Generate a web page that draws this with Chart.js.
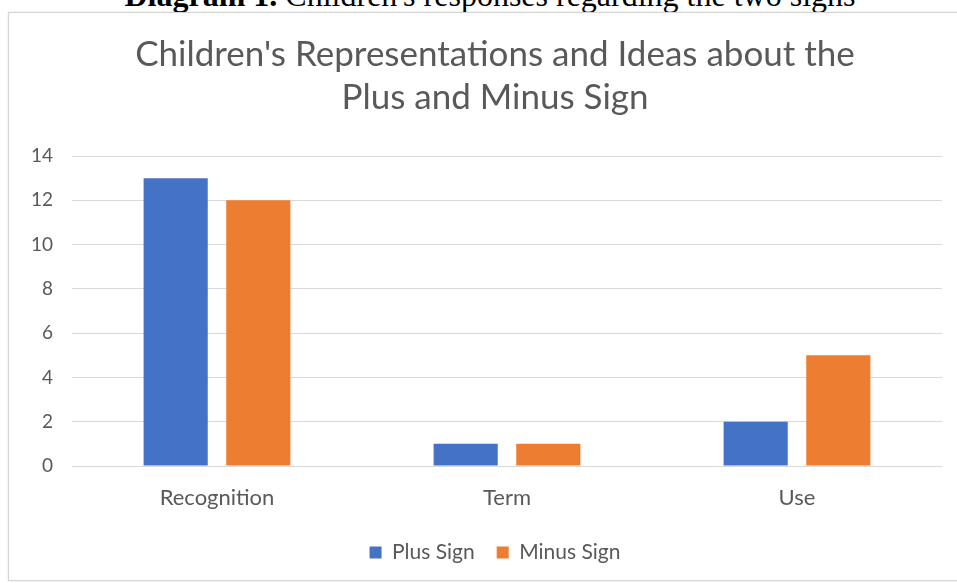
<!DOCTYPE html>
<html>
<head>
<meta charset="utf-8">
<script src="https://cdn.jsdelivr.net/npm/chart.js@4"></script>
<style>
  html, body { margin: 0; padding: 0; background: #fff; overflow: hidden; }
  body { width: 957px; height: 583px; position: relative; overflow: hidden; }
  .caption {
    position: absolute; left: 0; top: -21px; width: 980px; text-align: center;
    font-family: "Liberation Serif", serif; font-size: 32px; line-height: 32px; color: #000;
  }
  .frame {
    position: absolute; left: 8px; top: 12px; width: 970px; height: 567px;
    border: 1px solid #d4d4d4; box-shadow: 0 0 2px rgba(0,0,0,0.12);
  }
  /* canvas runs a bit past the right edge so title and legend centre at x~495 */
  .chartBox { position: absolute; left: 0; top: 0; width: 982px; height: 583px; }
</style>
</head>
<body>
<div class="caption"><b>Diagram 1.</b> Children's responses regarding the two signs</div>
<div class="frame"></div>
<div class="chartBox"><canvas id="chart"></canvas></div>
<script>
const categories = ["Recognition", "Term", "Use"];
const plusSign = [13, 1, 2];
const minusSign = [12, 1, 5];
const seriesNames = ["Plus Sign", "Minus Sign"];
const titleLines = ["Children's Representations and Ideas about the", "Plus and Minus Sign"];

const textGray = "#595959";
const fontFamily = "Lato, 'Noto Sans', sans-serif";

const chartConfig = {
  type: "bar",
  data: {
    labels: categories,
    datasets: [
      {
        label: seriesNames[0],
        data: plusSign,
        backgroundColor: "#4472C4",
        categoryPercentage: 0.57,
        barPercentage: 0.776,
      },
      {
        label: seriesNames[1],
        data: minusSign,
        backgroundColor: "#ED7D31",
        categoryPercentage: 0.57,
        barPercentage: 0.776,
      },
    ],
  },
  options: {
    responsive: true,
    maintainAspectRatio: false,
    animation: false,
    layout: { padding: { left: 8, right: 0, top: 12, bottom: 10 } },
    scales: {
      x: {
        grid: { display: false, drawTicks: false },
        border: { display: false },
        ticks: {
          color: textGray,
          padding: 19,
          font: { family: fontFamily, size: 22 },
        },
        afterFit: (scale) => {
          scale.height = 54;
        },
      },
      y: {
        min: 0,
        max: 14,
        ticks: {
          stepSize: 2,
          color: textGray,
          padding: 19,
          font: { family: fontFamily, size: 19 },
        },
        grid: { color: "#d9d9d9", lineWidth: 1, drawTicks: false },
        border: { display: false },
        afterFit: (scale) => {
          scale.width = 64;
        },
      },
      // empty spacer on the right, keeps the plot ending at x=942
      spacer: {
        position: "right",
        grid: { display: false, drawTicks: false },
        border: { display: false },
        ticks: { display: false },
        afterFit: (scale) => {
          scale.width = 40;
        },
      },
    },
    plugins: {
      title: {
        display: true,
        text: titleLines,
        color: textGray,
        font: { family: fontFamily, size: 35, weight: "normal", lineHeight: 1.23 },
        padding: { top: 21, bottom: 37 },
      },
      legend: {
        position: "bottom",
        labels: {
          boxWidth: 12,
          boxHeight: 12,
          padding: 22,
          color: textGray,
          font: { family: fontFamily, size: 21 },
        },
      },
      tooltip: { enabled: false },
    },
  },
};

new Chart(document.getElementById("chart"), chartConfig);
</script>
</body>
</html>
